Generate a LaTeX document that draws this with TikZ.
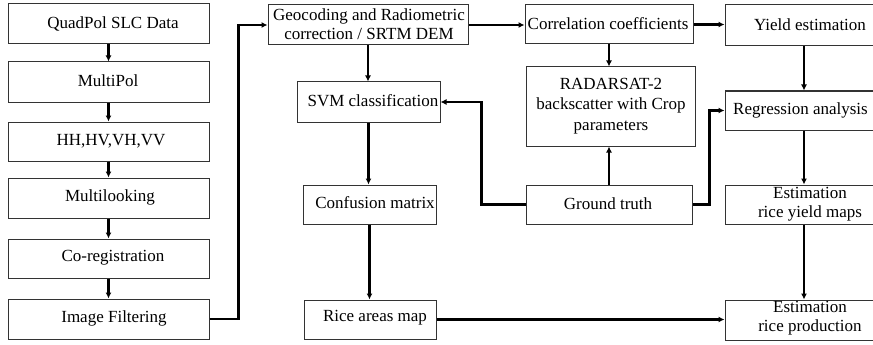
\documentclass[tikz,border=0pt]{standalone}
\usepackage{fontspec}
\setmainfont{Liberation Serif}
\usetikzlibrary{arrows.meta,calc}
\begin{document}
\begin{tikzpicture}[x=1pt,y=-1pt,
  box/.style={draw=black!80,line width=1pt,fill=white},
  txt/.style={inner sep=0pt,align=center,font=\fontsize{17}{19.5}\selectfont},
  arr/.style={line width=2.3pt,-{Latex[length=6pt,width=6pt]}}]
\useasboundingbox (0,0) rectangle (873,345);
\newcommand{\mybox}[5]{\node[box,minimum width=#4-#2,minimum height=#5-#3,inner sep=0pt] (#1) at ({(#2+#4)/2},{(#3+#5)/2}) {};}
% left column
\mybox{q}{8}{4}{209}{44}
\mybox{mp}{8}{62}{209}{102}
\mybox{hh}{8}{122}{209}{161}
\mybox{ml}{8}{178}{209}{218}
\mybox{co}{8}{239}{209}{278}
\mybox{imf}{8}{299}{209}{339}
% middle
\mybox{geo}{268}{5}{468}{45}
\mybox{svm}{297}{82}{440}{122}
\mybox{conf}{303}{185}{436}{224}
\mybox{rice}{304}{300}{436}{339}
\mybox{corr}{525}{5}{693}{44}
\mybox{radar}{526}{67}{695}{146}
\mybox{gt}{526}{185}{692}{224}
% right
\mybox{yield}{725}{5}{873}{46}
\mybox{reg}{725}{91}{873}{130}
\mybox{eyield}{725}{185}{873}{224}
\mybox{eprod}{725}{300}{873}{340}
% texts
\node[txt] (tq) at (113,24) {QuadPol SLC Data};
\node[txt] (tmp) at (108,81) {MultiPol};
\node[txt] (thh) at (111,141) {HH,HV,VH,VV};
\node[txt] (tml) at (110,197) {Multilooking};
\node[txt] (tco) at (113,258) {Co-registration};
\node[txt] (timf) at (114,318) {Image Filtering};
\node[txt] (tgeo) at (369,24) {Geocoding and Radiometric\\correction / SRTM DEM};
\node[txt] (tsvm) at (373,101) {SVM classification};
\node[txt] (tconf) at (375,203) {Confusion matrix};
\node[txt] (trice) at (375,318) {Rice areas map};
\node[txt] (tcorr) at (608,24) {Correlation coefficients};
\node[txt,font=\fontsize{17}{20.5}\selectfont] (tradar) at (611,106) {RADARSAT-2\\backscatter with Crop\\parameters};
\node[txt] (tgt) at (608,204) {Ground truth};
\node[txt] (tyield) at (810,25) {Yield estimation};
\node[txt,anchor=west] (treg) at (733,110) {Regression analysis};
\node[txt,font=\fontsize{17}{18.5}\selectfont] (teyield) at (810,204) {Estimation\\rice yield maps};
\node[txt,font=\fontsize{17}{18.5}\selectfont] (teprod) at (810,318) {Estimation\\rice production};
% connectors
\draw[arr] (q.south) -- (mp.north);
\draw[arr] (mp.south) -- (hh.north);
\draw[arr] (hh.south) -- (ml.north);
\draw[arr] (ml.south) -- (co.north);
\draw[arr] (co.south) -- (imf.north);
\draw[arr] (imf.east) -- ++(29,0) |- (geo.west);
\draw[arr] (geo.east) -- (geo.east -| corr.west);
\draw[arr] (corr.east) -- (corr.east -| yield.west);
\draw[arr] (geo.south) -- (geo.south |- svm.north);
\draw[arr] (svm.south) -- (svm.south |- conf.north);
\draw[arr] (conf.south) -- (conf.south |- rice.north);
\draw[arr] (corr.south) -- (corr.south |- radar.north);
\draw[arr] (gt.north) -- (gt.north |- radar.south);
\draw[arr] (gt.west) -- ++(-44,0) |- (svm.east);
\draw[arr] (gt.east) -- ++(17,0) |- (reg.west);
\coordinate (cx) at (804,0);
\draw[arr] (yield.south -| cx) -- (reg.north -| cx);
\draw[arr] (reg.south -| cx) -- (eyield.north -| cx);
\draw[arr] (eyield.south -| cx) -- (eprod.north -| cx);
\draw[arr] (rice.east) -- (rice.east -| eprod.west);
\end{tikzpicture}
\end{document}
